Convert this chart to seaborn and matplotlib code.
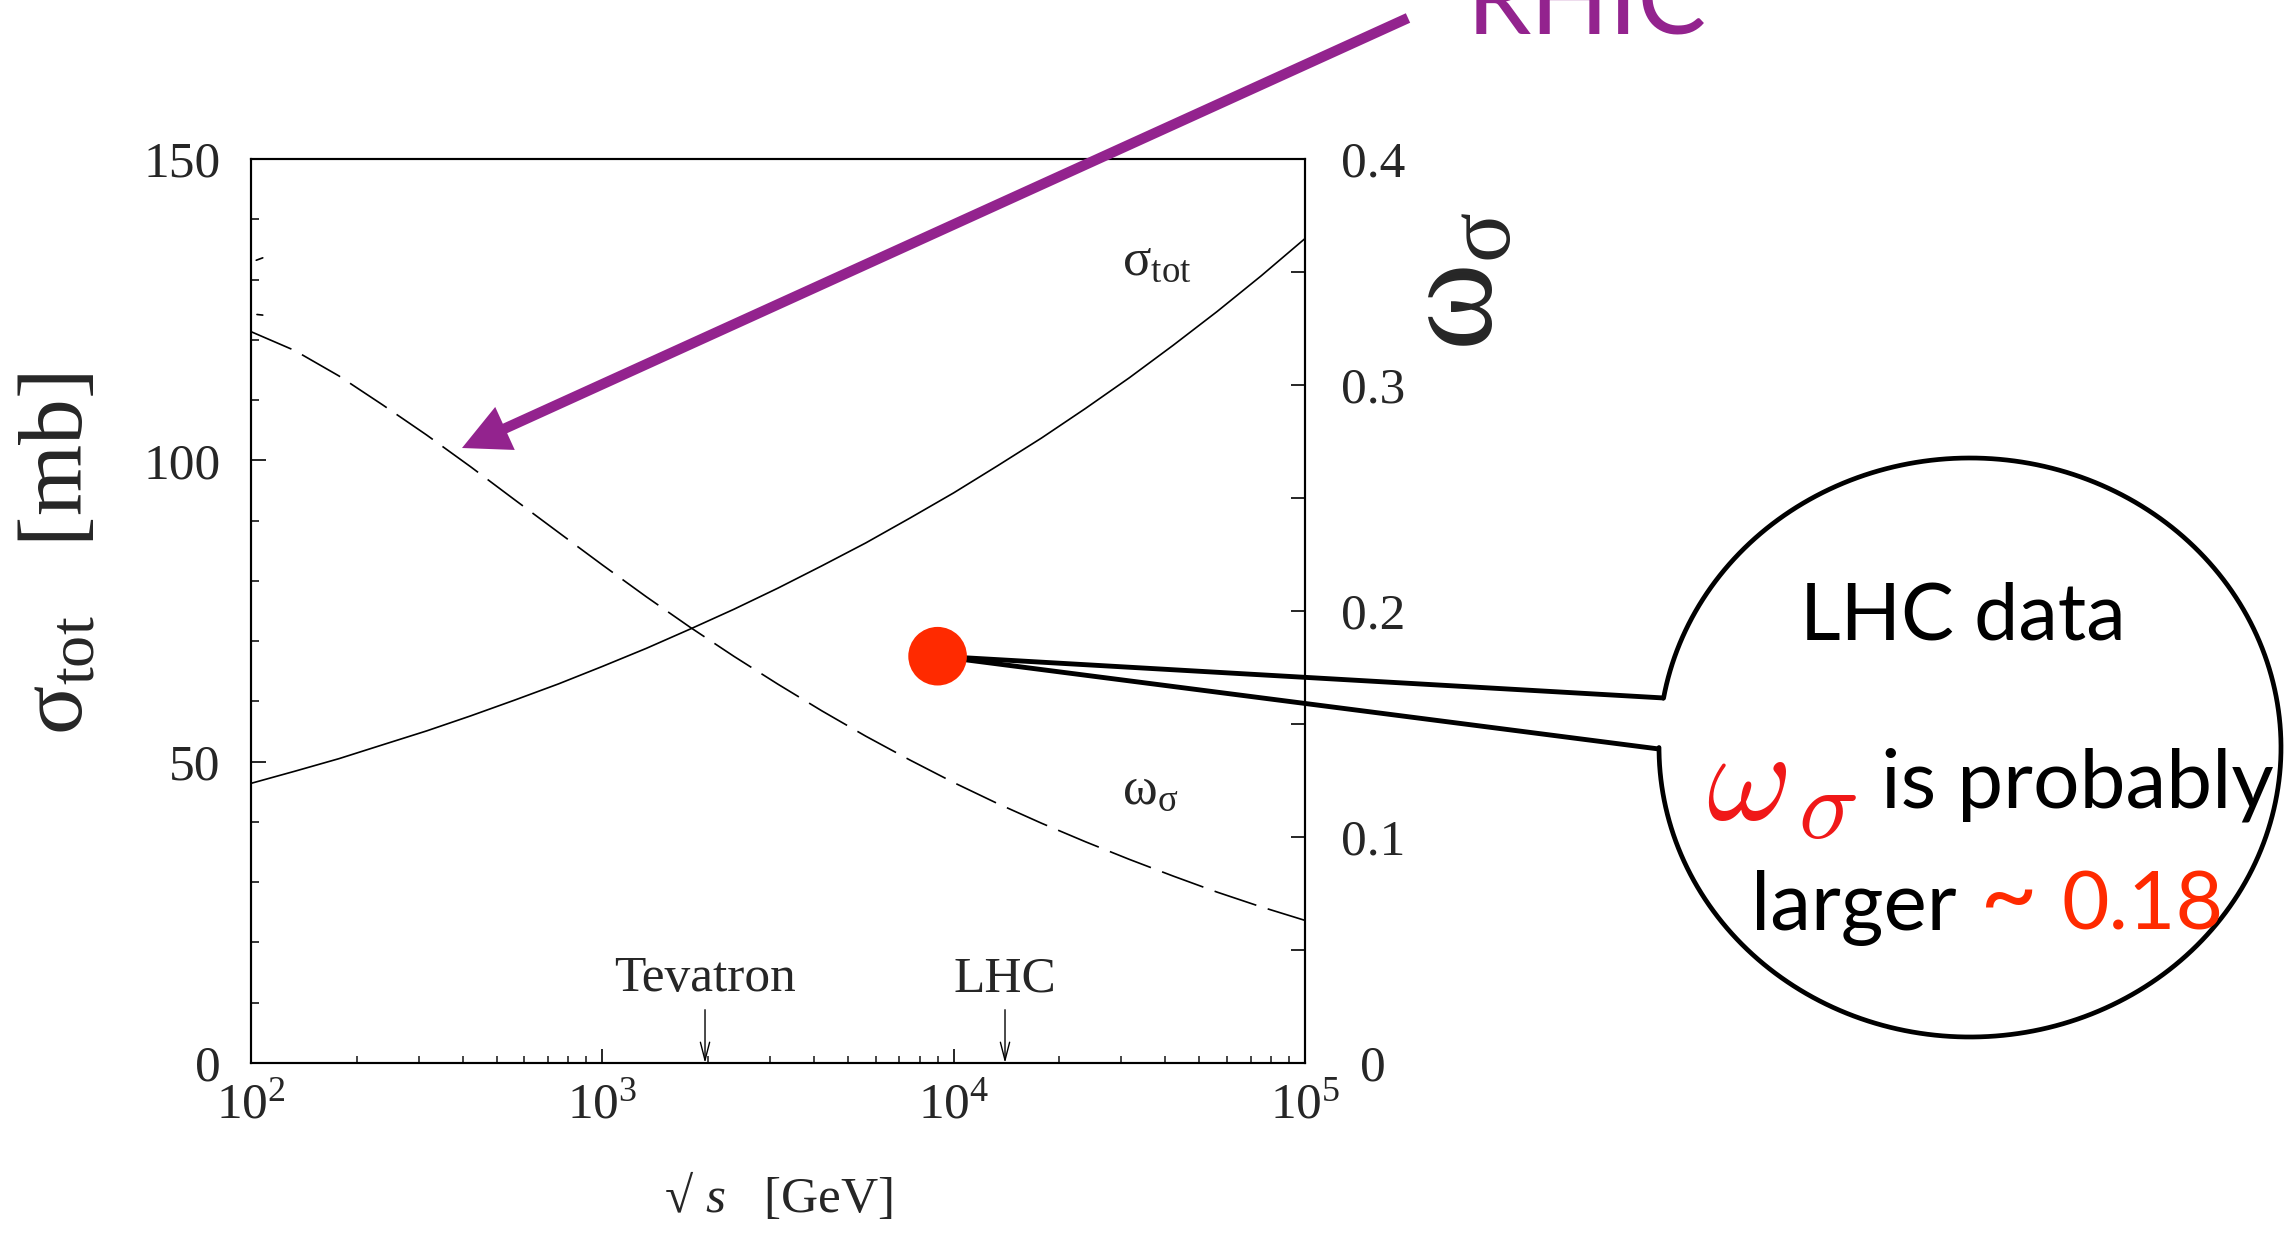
import numpy as np
import pandas as pd
import matplotlib
matplotlib.use("Agg")
import matplotlib.pyplot as plt
import seaborn as sns
from matplotlib.lines import Line2D
from matplotlib.patches import FancyArrowPatch, ArrowStyle
from matplotlib.ticker import MultipleLocator, FuncFormatter, LogLocator, NullFormatter, FixedLocator

# ---------------- data ----------------
sqrt_s = [100, 133, 178, 237, 316, 422, 562, 750, 1000, 1334, 1778, 2371, 3162,
          4217, 5623, 7499, 10000, 13335, 17783, 23714, 31623, 42170, 56234, 74989, 100000]
sigma_tot = [46.4, 48.4, 50.5, 52.8, 55.1, 57.6, 60.2, 62.9, 65.8, 68.8, 72.0, 75.3, 78.8,
             82.5, 86.3, 90.4, 94.6, 99.1, 103.7, 108.6, 113.7, 119.1, 124.7, 130.6, 136.8]
omega_sigma = [0.3236, 0.3153, 0.3040, 0.2912, 0.2779, 0.2638, 0.2493, 0.2348, 0.2204,
               0.2063, 0.1928, 0.1799, 0.1676, 0.1558, 0.1446, 0.1341, 0.1241, 0.1148,
               0.1061, 0.0979, 0.0901, 0.0827, 0.0756, 0.0691, 0.0631]

# tiny clipped fragments of other curves at the left edge
frag_a_s = [103.5, 108.0]
frag_a_sigma = [133.2, 133.6]
frag_b_s = [104.0, 108.0]
frag_b_sigma = [124.2, 124.1]

# LHC data point (right axis)
lhc_s = [9000]
lhc_omega = [0.18]

colliders = ["Tevatron", "LHC"]
collider_s = [1960, 14000]

x_ticks = [1e2, 1e3, 1e4, 1e5]
sigma_ticks = [0, 50, 100, 150]
omega_ticks = [0, 0.1, 0.2, 0.3, 0.4]

# ---------------- style ----------------
sns.set_style("white")
plt.rcParams["font.family"] = ["Liberation Serif", "DejaVu Serif"]
plt.rcParams["mathtext.fontset"] = "custom"
plt.rcParams["mathtext.rm"] = "Liberation Serif"
plt.rcParams["mathtext.it"] = "Liberation Serif:italic"
plt.rcParams["mathtext.bf"] = "Liberation Serif:bold"
plt.rcParams["lines.scale_dashes"] = False

PURPLE = "#93238E"
RED_DOT = "#FF2A00"
RED_W = "#F01818"

W, H = 2286, 1233
fig = plt.figure(figsize=(W / 100, H / 100), dpi=100)
fig.patch.set_facecolor("white")


def fx(px):
    return px / W


def fy(py):
    return 1 - py / H


ax = fig.add_axes([fx(251), fy(1063), (1305 - 251) / W, (1063 - 159) / H])
ax.patch.set_visible(False)
ax.set_xscale("log")
ax.set_xlim(1e2, 1e5)
ax.set_ylim(0, 150)
ax2 = ax.twinx()
ax2.set_ylim(0, 0.4)

df = pd.DataFrame({"sqrt_s": sqrt_s, "sigma_tot": sigma_tot, "omega_sigma": omega_sigma})

sns.lineplot(data=df, x="sqrt_s", y="sigma_tot", ax=ax, color="black", lw=1.2,
             estimator=None, sort=False, legend=False)
sns.lineplot(data=df, x="sqrt_s", y="omega_sigma", ax=ax2, color="black", lw=1.2,
             estimator=None, sort=False, legend=False, linestyle=(0, (31.7, 8.6)))
sns.lineplot(x=frag_a_s, y=frag_a_sigma, ax=ax, color="black", lw=1.2, legend=False)
sns.lineplot(x=frag_b_s, y=frag_b_sigma, ax=ax, color="black", lw=1.2, legend=False)

sns.scatterplot(x=lhc_s, y=lhc_omega, ax=ax2, s=1780, color=RED_DOT, edgecolor="none",
                zorder=6, legend=False, clip_on=False)

ax.set_xlim(1e2, 1e5)
ax.set_ylim(0, 150)
ax2.set_ylim(0, 0.4)
ax.set_xlabel("")
ax.set_ylabel("")
ax2.set_ylabel("")

# ---------------- ticks ----------------
ax.xaxis.set_major_locator(FixedLocator(x_ticks))
ax.xaxis.set_minor_locator(LogLocator(base=10, subs=np.arange(2, 10)))
ax.xaxis.set_minor_formatter(NullFormatter())
ax.xaxis.set_major_formatter(FuncFormatter(lambda v, p: r"$\mathregular{10^{%d}}$" % round(np.log10(v))))
ax.yaxis.set_major_locator(FixedLocator(sigma_ticks))
ax.yaxis.set_minor_locator(MultipleLocator(10))
ax.yaxis.set_major_formatter(FuncFormatter(lambda v, p: "%d" % v))

ax.tick_params(axis="y", which="major", direction="in", length=10.8, width=1.4,
               labelsize=37, pad=22, left=True, right=False)
ax.tick_params(axis="y", which="minor", direction="in", length=5.4, width=1.3,
               left=True, right=False)
ax.tick_params(axis="x", which="major", direction="in", length=10, width=1.4,
               labelsize=37, pad=14, bottom=True, top=False)
ax.tick_params(axis="x", which="minor", direction="in", length=5, width=1.2,
               bottom=True, top=False)

ax2.yaxis.set_major_locator(FixedLocator(omega_ticks))
ax2.yaxis.set_minor_locator(MultipleLocator(0.05))
ax2.yaxis.set_major_formatter(FuncFormatter(lambda v, p: "0" if abs(v) < 1e-9 else "%.1f" % v))
ax2.tick_params(axis="y", which="both", direction="in", length=10, width=1.4,
                labelsize=37, pad=49, left=False, right=True)
for lab in ax2.yaxis.get_majorticklabels():
    lab.set_horizontalalignment("center")

for a in (ax, ax2):
    for s in a.spines.values():
        s.set_linewidth(1.5)
        s.set_color("black")

# ---------------- labels ----------------
fig.text(fx(60), fy(554), r"$\mathregular{σ_{tot}}$   [mb]", rotation=90,
         ha="center", va="center", fontsize=66)
fig.text(fx(1460), fy(281), r"$\mathregular{ω_{σ}}$", rotation=90,
         ha="center", va="center", fontsize=96)
fig.text(fx(778), fy(1212), r"√ $\mathit{s}$   [GeV]", ha="center", va="baseline", fontsize=37)

fig.text(fx(1122), fy(275), r"$\mathregular{σ_{tot}}$", ha="left", va="baseline", fontsize=38)
fig.text(fx(1122), fy(804), r"$\mathregular{ω_{σ}}$", ha="left", va="baseline", fontsize=38)

for name, sx in zip(colliders, collider_s):
    ax.annotate(name, xy=(sx, 0), xytext=(sx, 11.9), textcoords="data",
                ha="center", va="baseline", fontsize=37,
                arrowprops=dict(arrowstyle="->,head_length=0.35,head_width=0.09",
                                lw=1.0, color="black", shrinkA=3, shrinkB=0))

# ---------------- RHIC arrow ----------------
arrow = FancyArrowPatch(posA=(fx(1408), fy(18)), posB=(fx(462), fy(448)),
                        transform=fig.transFigure,
                        arrowstyle=ArrowStyle.Simple(head_length=34, head_width=34, tail_width=7.5),
                        mutation_scale=1, color=PURPLE, lw=0, shrinkA=0, shrinkB=0, zorder=5)
fig.add_artist(arrow)
fig.text(fx(1467), fy(33), "RHIC", fontfamily="Lato", fontsize=74, color=PURPLE,
         ha="left", va="baseline")

# ---------------- callout bubble ----------------
fig.canvas.draw()
dot_disp = ax2.transData.transform((lhc_s[0], lhc_omega[0]))
dot_fig = fig.transFigure.inverted().transform(dot_disp)

for end in [(1664, 698), (1659, 749)]:
    fig.add_artist(Line2D([dot_fig[0], fx(end[0])], [dot_fig[1], fy(end[1])],
                          transform=fig.transFigure, color="black", lw=3.5,
                          solid_capstyle="butt", zorder=-1))

cx, cy, ea, eb = 1970, 747.5, 311, 289.5
t = np.linspace(np.deg2rad(170.2), np.deg2rad(-180), 500)
bx = cx + ea * np.cos(t)
by = cy - eb * np.sin(t)
fig.add_artist(Line2D(fx(bx), fy(by), transform=fig.transFigure, color="black", lw=3.4,
                      solid_joinstyle="round", zorder=3))

fig.text(fx(1963), fy(639), "LHC data", fontfamily="Lato", fontsize=57, color="black",
         ha="center", va="baseline")
fig.text(fx(1706), fy(820), r"$\omega$", math_fontfamily="cm", fontsize=94,
         color=RED_W, ha="left", va="baseline")
fig.text(fx(1798), fy(838), r"$\sigma$", math_fontfamily="cm", fontsize=72,
         color=RED_W, ha="left", va="baseline")
fig.text(fx(1881), fy(807), "is probably", fontfamily="Lato", fontsize=59, color="black",
         ha="left", va="baseline")
fig.text(fx(1751), fy(930), "larger", fontfamily="Lato", fontsize=59, color="black",
         ha="left", va="baseline")
fig.text(fx(1980), fy(930), "~", fontfamily="Lato", fontsize=72, color=RED_DOT,
         ha="left", va="baseline")
fig.text(fx(2062), fy(930), "0.18", fontfamily="Lato", fontsize=59, color=RED_DOT,
         ha="left", va="baseline")

fig.savefig("out.png", dpi=100)
